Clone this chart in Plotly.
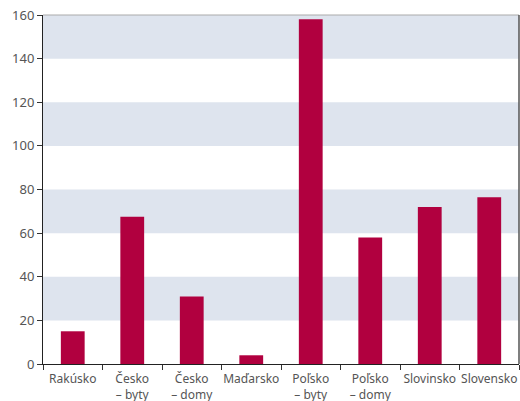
import plotly.graph_objects as go

categories = ["Rakúsko", "Česko<br>– byty", "Česko<br>– domy", "Maďarsko",
              "Poľsko<br>– byty", "Poľsko<br>– domy", "Slovinsko", "Slovensko"]
values = [15, 67.5, 31, 4, 158, 58, 72, 76.5]
y_ticks = [0, 20, 40, 60, 80, 100, 120, 140, 160]
bands = [(20, 40), (60, 80), (100, 120), (140, 160)]

fig = go.Figure(go.Bar(x=categories, y=values, marker_color="#b1003f",
                       marker_line_width=0))

shapes = []
for y0, y1 in bands:
    shapes.append(dict(type="rect", xref="paper", yref="y", x0=0, x1=1, y0=y0, y1=y1,
                       fillcolor="#dee4ee", line_width=0, layer="below"))
shapes.append(dict(type="line", xref="paper", yref="paper", x0=0, x1=1, y0=1, y1=1,
                   line=dict(color="#aaaaaa", width=1)))
shapes.append(dict(type="line", xref="paper", yref="paper", x0=1, x1=1, y0=0, y1=1,
                   line=dict(color="#555555", width=1.5)))

fig.update_layout(
    width=520, height=401,
    margin=dict(l=43, r=1, t=15, b=37),
    plot_bgcolor="white", paper_bgcolor="white",
    font=dict(family="Noto Sans", size=12, color="#555555"),
    bargap=0.6, showlegend=False, shapes=shapes,
    xaxis=dict(type="category", tickson="boundaries", ticks="outside", ticklen=5,
               tickcolor="#333333", showline=True, linecolor="#222222", linewidth=1,
               showgrid=False, tickangle=0, automargin=False, ticklabelstandoff=4,
               tickfont=dict(family="Noto Sans", size=12, color="#555555")),
    yaxis=dict(range=[0, 160], tickvals=y_ticks, ticks="outside", ticklen=5,
               tickcolor="#333333", showline=True, linecolor="#222222", linewidth=1,
               showgrid=False, zeroline=False, automargin=False,
               tickfont=dict(family="Noto Sans", size=13, color="#555555")),
)
fig.write_html("out.html")
